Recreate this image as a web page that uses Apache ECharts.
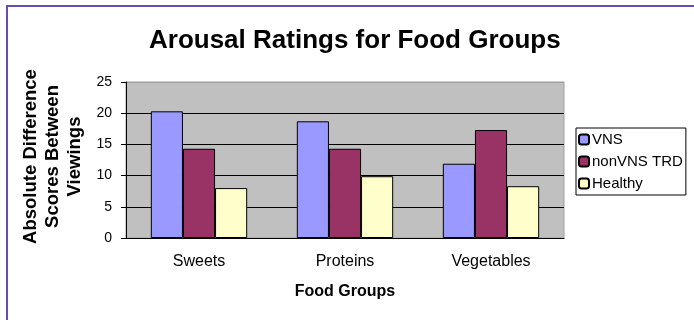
<!DOCTYPE html>
<html lang="en">

<head>
    <meta charset="UTF-8">
    <title>Arousal Ratings for Food Groups</title>
    <script src="https://cdn.jsdelivr.net/npm/echarts@6/dist/echarts.min.js"></script>
    <style>
        body {
            margin: 0;
            background: #fff;
        }

        .frame {
            position: absolute;
            left: 6px;
            top: 5px;
            width: 720px;
            height: 340px;
            border-left: 2px solid #6a4caf;
            border-top: 2px solid #6a4caf;
        }

        #chart {
            position: absolute;
            left: 0;
            top: 0;
            width: 694px;
            height: 320px;
        }
    </style>
</head>

<body>
    <div class="frame"></div>
    <div id="chart"></div>

    <script>
        var categories = ['Sweets', 'Proteins', 'Vegetables'];
        var vns = [20.3, 18.7, 11.9];
        var nonVnsTrd = [14.3, 14.3, 17.3];
        var healthy = [8.0, 9.9, 8.3];
        var seriesNames = ['VNS', 'nonVNS TRD', 'Healthy'];
        var colors = ['#9999ff', '#993366', '#ffffcc'];

        var font = 'Liberation Sans, Arial, sans-serif';
        var myChart = echarts.init(document.getElementById('chart'));

        function makeBar(name, data, color) {
            return {
                name: name,
                type: 'bar',
                data: data,
                barGap: 0,
                barCategoryGap: '34%',
                itemStyle: {
                    color: color,
                    borderColor: '#000',
                    borderWidth: 1
                }
            };
        }

        myChart.setOption({
            animation: false,
            textStyle: { fontFamily: font },
            title: {
                text: 'Arousal Ratings for Food Groups',
                left: 149,
                top: 28,
                padding: 0,
                textStyle: {
                    fontFamily: font,
                    fontSize: 26,
                    fontWeight: 'bold',
                    color: '#000'
                }
            },
            legend: {
                orient: 'vertical',
                left: 576,
                top: 128,
                padding: [4, 3, 4, 2],
                itemGap: 7,
                itemWidth: 10,
                itemHeight: 10,
                borderColor: '#000',
                borderWidth: 1,
                data: seriesNames,
                textStyle: {
                    fontFamily: font,
                    fontSize: 15,
                    color: '#000',
                    padding: [0, 0, 0, -2]
                }
            },
            grid: {
                left: 126,
                right: 130,
                top: 82,
                bottom: 82,
                show: true,
                backgroundColor: '#c0c0c0',
                borderColor: '#a0a0a0',
                borderWidth: 1
            },
            xAxis: {
                type: 'category',
                data: categories,
                name: 'Food Groups',
                nameLocation: 'middle',
                nameGap: 46,
                nameTextStyle: {
                    fontFamily: font,
                    fontSize: 16,
                    fontWeight: 'bold',
                    color: '#000'
                },
                axisLine: { lineStyle: { color: '#000', width: 1 } },
                axisTick: { length: 5, lineStyle: { color: '#000' } },
                axisLabel: {
                    margin: 16,
                    fontSize: 16,
                    color: '#000'
                }
            },
            yAxis: {
                type: 'value',
                min: 0,
                max: 25,
                interval: 5,
                name: 'Absolute Difference\nScores Between\nViewings',
                nameLocation: 'middle',
                nameGap: 39,
                nameTextStyle: {
                    fontFamily: font,
                    fontSize: 18.5,
                    fontWeight: 'bold',
                    lineHeight: 22,
                    color: '#000',
                    align: 'center',
                    padding: [0, 0, 0, 7]
                },
                axisLine: { show: true, lineStyle: { color: '#000', width: 1 } },
                axisTick: { show: true, length: 5, lineStyle: { color: '#000' } },
                axisLabel: {
                    margin: 14,
                    fontSize: 14,
                    color: '#000'
                },
                splitLine: {
                    show: true,
                    lineStyle: {
                        color: ['#000', '#000', '#000', '#000', '#000', '#a0a0a0'],
                        width: 1
                    }
                }
            },
            series: [
                makeBar(seriesNames[0], vns, colors[0]),
                makeBar(seriesNames[1], nonVnsTrd, colors[1]),
                makeBar(seriesNames[2], healthy, colors[2])
            ]
        });
    </script>
</body>

</html>
